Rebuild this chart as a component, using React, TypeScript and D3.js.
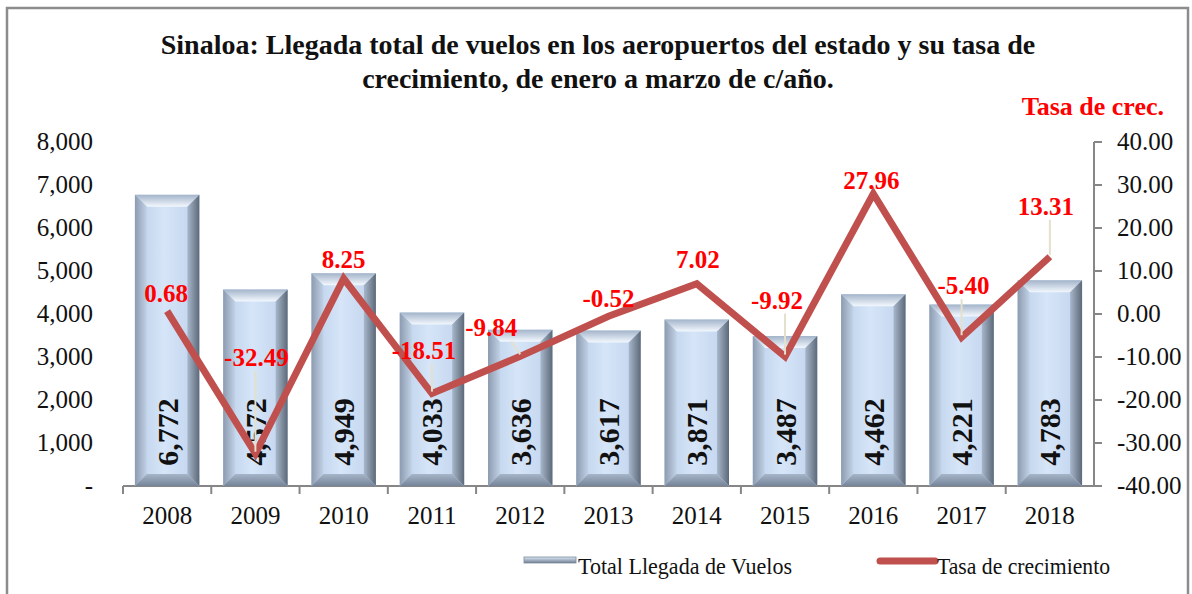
import React, { useEffect, useRef } from "react";
import { select, scaleBand, scaleLinear, line, format } from "d3";

const years = ["2008", "2009", "2010", "2011", "2012", "2013", "2014", "2015", "2016", "2017", "2018"];
const vuelos = [6772, 4572, 4949, 4033, 3636, 3617, 3871, 3487, 4462, 4221, 4783];
const tasa = [0.68, -32.49, 8.25, -18.51, -9.84, -0.52, 7.02, -9.92, 27.96, -5.4, 13.31];
const leftTicks = [0, 1000, 2000, 3000, 4000, 5000, 6000, 7000, 8000];
const rightTicks = [-40, -30, -20, -10, 0, 10, 20, 30, 40];

// where excel put each growth label, relative to its point
const labelNudge = [
  [-1, -18], [1, -97], [0, -20], [-8, -44], [-29, -29], [0, -18],
  [1, -25], [-8, -57], [-2, -14], [2, -52], [-4, -51],
];

const FONT = '"Liberation Serif", "Times New Roman", serif';
const RED_LINE = "#C0504D";

// d3 writes a unicode minus, the original uses a plain hyphen
const fmt2 = (v) => format(".2f")(v).replace("\u2212", "-");

const Chart = () => {
  const svgRef = useRef(null);

  useEffect(() => {
    const svg = select(svgRef.current);
    svg.selectAll(".drawn").remove();
    const g = svg.append("g").attr("class", "drawn");

    const left = 123, right = 1094, top = 142, bottom = 486;

    const x = scaleBand().domain(years).range([left, right]).paddingInner(0.27).paddingOuter(0.135);
    const yL = scaleLinear().domain([0, 8000]).range([bottom, top]);
    const yR = scaleLinear().domain([-40, 40]).range([bottom, top]);
    const cx = (d) => x(d) + x.bandwidth() / 2;

    // outer frame
    g.append("rect").attr("x", 7).attr("y", 8).attr("width", 1181).attr("height", 600)
      .attr("fill", "white").attr("stroke", "#8c8c8c").attr("stroke-width", 2.5);

    // title
    const title = g.append("text").attr("font-family", FONT).attr("font-weight", "bold")
      .attr("font-size", 28).attr("text-anchor", "middle").attr("fill", "#111");
    title.append("tspan").attr("x", 598).attr("y", 54)
      .text("Sinaloa: Llegada total de vuelos en los aeropuertos del estado y su tasa de");
    title.append("tspan").attr("x", 598).attr("y", 88)
      .text("crecimiento, de enero a marzo de c/año.");

    g.append("text").attr("x", 1164).attr("y", 115).attr("text-anchor", "end")
      .attr("font-family", FONT).attr("font-weight", "bold").attr("font-size", 26)
      .attr("fill", "#FF0000").text("Tasa de crec.");

    // left axis labels (no axis line in the original)
    g.selectAll(".ltick").data(leftTicks).enter().append("text")
      .attr("x", 93).attr("y", (d) => yL(d) + 8).attr("text-anchor", "end")
      .attr("font-family", FONT).attr("font-size", 25).attr("fill", "#111")
      .text((d) => (d === 0 ? "-" : format(",")(d)));

    // right axis
    g.append("line").attr("x1", right).attr("x2", right).attr("y1", top).attr("y2", bottom)
      .attr("stroke", "#868686").attr("stroke-width", 2);
    rightTicks.forEach((t) => {
      g.append("line").attr("x1", right).attr("x2", right + 8).attr("y1", yR(t)).attr("y2", yR(t))
        .attr("stroke", "#868686").attr("stroke-width", 2);
      g.append("text").attr("x", 1117).attr("y", yR(t) + 8)
        .attr("font-family", FONT).attr("font-size", 25).attr("fill", "#111")
        .text(fmt2(t));
    });

    // x axis
    g.append("line").attr("x1", left).attr("x2", right).attr("y1", bottom).attr("y2", bottom)
      .attr("stroke", "#868686").attr("stroke-width", 2);
    const step = x.step();
    years.forEach((yr, i) => {
      const tx = left + i * step;
      g.append("line").attr("x1", tx).attr("x2", tx).attr("y1", bottom).attr("y2", bottom + 8)
        .attr("stroke", "#868686").attr("stroke-width", 2);
      g.append("text").attr("x", cx(yr)).attr("y", 524).attr("text-anchor", "middle")
        .attr("font-family", FONT).attr("font-size", 25).attr("fill", "#111").text(yr);
    });

    // bevelled bars
    const b = 12;
    years.forEach((yr, i) => {
      const x0 = x(yr), x1 = x0 + x.bandwidth();
      const y0 = yL(vuelos[i]), y1 = yL(0);
      const bar = g.append("g");
      bar.append("rect").attr("x", x0).attr("y", y0).attr("width", x1 - x0).attr("height", y1 - y0)
        .attr("fill", "url(#front)");
      const poly = (pts, fill) => bar.append("polygon")
        .attr("points", pts.map((p) => p.join(",")).join(" ")).attr("fill", fill);
      poly([[x0, y0], [x1, y0], [x1 - b, y0 + b], [x0 + b, y0 + b]], "url(#topB)");
      poly([[x0, y0], [x0 + b, y0 + b], [x0 + b, y1 - b], [x0, y1]], "url(#leftB)");
      poly([[x1, y0], [x1, y1], [x1 - b, y1 - b], [x1 - b, y0 + b]], "url(#rightB)");
      poly([[x0, y1], [x1, y1], [x1 - b, y1 - b], [x0 + b, y1 - b]], "url(#botB)");

      g.append("text").attr("transform", `translate(${cx(yr)},432) rotate(-90)`)
        .attr("text-anchor", "middle").attr("dy", "0.35em")
        .attr("font-family", FONT).attr("font-weight", "bold").attr("font-size", 30)
        .attr("fill", "#111").text(format(",")(vuelos[i]));
    });

    // growth line
    const path = line().x((d, i) => cx(years[i])).y((d) => yR(d));
    g.append("path").attr("d", path(tasa)).attr("fill", "none")
      .attr("stroke", RED_LINE).attr("stroke-width", 7).attr("stroke-linejoin", "miter");

    // labels + leader lines
    tasa.forEach((v, i) => {
      const px = cx(years[i]), py = yR(v);
      const tx = px + labelNudge[i][0], ty = py + labelNudge[i][1];
      if (labelNudge[i][1] < -35 || Math.abs(labelNudge[i][0]) > 20) {
        const sx = Math.max(tx - 20, Math.min(tx + 20, px));
        g.append("line").attr("x1", sx).attr("y1", ty + 14).attr("x2", px).attr("y2", py - 2)
          .attr("stroke", "#E4E0CC").attr("stroke-width", 2);
      }
      g.append("text").attr("x", tx).attr("y", ty + 9).attr("text-anchor", "middle")
        .attr("font-family", FONT).attr("font-weight", "bold").attr("font-size", 25)
        .attr("fill", "#FF0000").text(fmt2(v));
    });

    // legend
    const lg = g.append("g");
    lg.append("rect").attr("x", 524).attr("y", 557).attr("width", 52).attr("height", 6)
      .attr("fill", "url(#legendBar)").attr("stroke", "#7d8a9b").attr("stroke-width", 0.8);
    lg.append("text").attr("x", 578).attr("y", 574).attr("font-family", FONT).attr("font-size", 24)
      .attr("textLength", 214).attr("lengthAdjust", "spacingAndGlyphs").attr("fill", "#111")
      .text("Total Llegada de Vuelos");
    lg.append("line").attr("x1", 880).attr("x2", 935).attr("y1", 561).attr("y2", 561)
      .attr("stroke", RED_LINE).attr("stroke-width", 7).attr("stroke-linecap", "round");
    lg.append("text").attr("x", 937).attr("y", 574).attr("font-family", FONT).attr("font-size", 24)
      .attr("textLength", 173).attr("lengthAdjust", "spacingAndGlyphs").attr("fill", "#111")
      .text("Tasa de crecimiento");
  }, []);

  return (
    <svg ref={svgRef} width={1192} height={594}
      style={{ position: "absolute", left: 0, top: 0, background: "white" }}>
      <defs>
        <linearGradient id="front" x1="0" x2="1" y1="0" y2="0">
          <stop offset="0" stopColor="#BACFE9" />
          <stop offset="0.45" stopColor="#D6E5F8" />
          <stop offset="1" stopColor="#BFD2EC" />
        </linearGradient>
        <linearGradient id="topB" x1="0" x2="0" y1="0" y2="1">
          <stop offset="0" stopColor="#A3B4CA" />
          <stop offset="1" stopColor="#F3F8FE" />
        </linearGradient>
        <linearGradient id="leftB" x1="0" x2="1" y1="0" y2="0">
          <stop offset="0" stopColor="#8C9BB0" />
          <stop offset="1" stopColor="#C2D2E6" />
        </linearGradient>
        <linearGradient id="rightB" x1="0" x2="1" y1="0" y2="0">
          <stop offset="0" stopColor="#A8B7CB" />
          <stop offset="1" stopColor="#5C6979" />
        </linearGradient>
        <linearGradient id="botB" x1="0" x2="0" y1="0" y2="1">
          <stop offset="0" stopColor="#A7B5C8" />
          <stop offset="1" stopColor="#76849A" />
        </linearGradient>
        <linearGradient id="legendBar" x1="0" x2="0" y1="0" y2="1">
          <stop offset="0" stopColor="#DCE8F7" />
          <stop offset="1" stopColor="#6F7E92" />
        </linearGradient>
      </defs>
    </svg>
  );
};

export default function App() {
  return <Chart />;
}
